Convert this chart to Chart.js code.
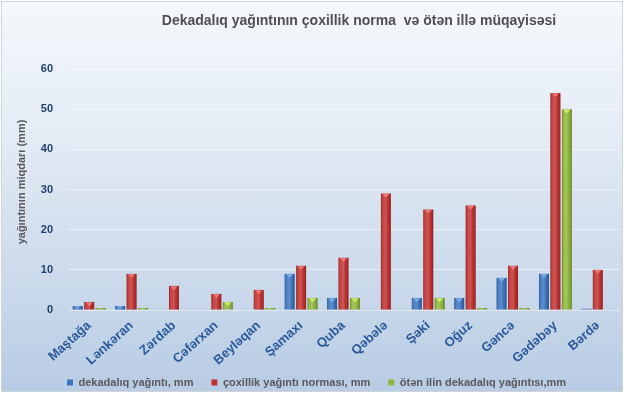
<!DOCTYPE html>
<html><head><meta charset="utf-8">
<script src="https://cdn.jsdelivr.net/npm/chart.js@4/dist/chart.umd.min.js"></script>
<style>
html,body{margin:0;padding:0;background:#fff;}
#wrap{position:absolute;left:1px;top:1px;width:620px;height:389px;overflow:hidden;border:1px solid #cfd4da;background:linear-gradient(#f5f8fc 0%,#e3ebf5 35%,#c9d8ea 75%,#b8cce4 100%);}
canvas{display:block;}
</style></head><body>
<div id="wrap"><canvas id="c" width="620" height="389"></canvas></div>
<script>
const categories = ["Maştağa","Lənkəran","Zərdab","Cəfərxan","Beyləqan","Şamaxı","Quba","Qəbələ","Şəki","Oğuz","Gəncə","Gədəbəy","Bərdə"];
const dekadaliq = [1,1,0,0,0,9,3,0,3,3,8,9,0.3];
const norma = [2,9,6,4,5,11,13,29,25,26,11,54,10];
const otenIl = [0.5,0.5,0,2,0.5,3,3,0,3,0.5,0.5,50,0];
const yTicks = [0,10,20,30,40,50,60];
const seriesNames = ["dekadalıq yağıntı, mm","çoxillik yağıntı norması, mm","ötən ilin dekadalıq yağıntısı,mm"];
const titleText = "Dekadalıq yağıntının çoxillik norma  və ötən illə müqayisəsi";
const yTitle = "yağıntının miqdarı (mm)";

const colors = ["#3b76c2","#c3312f","#8fb83a"];
const lights = ["#7fb0ea","#f07a78","#d3ee6e"];
const FONT = '"Liberation Sans", Arial, sans-serif';

const barStyle = {
  id:'barStyle',
  afterDatasetsDraw(chart){
    const ctx = chart.ctx;
    chart.data.datasets.forEach((ds,di)=>{
      const meta = chart.getDatasetMeta(di);
      meta.data.forEach(bar=>{
        const {x,y,base,width} = bar.getProps(['x','y','base','width'],true);
        const h = base - y;
        if (h <= 0.1) return;
        const l = x - width/2;
        ctx.save();
        const g = ctx.createLinearGradient(l,0,l+width,0);
        g.addColorStop(0,'rgba(0,0,0,0.28)');
        g.addColorStop(0.25,'rgba(255,255,255,0.10)');
        g.addColorStop(0.5,'rgba(255,255,255,0.18)');
        g.addColorStop(0.8,'rgba(0,0,0,0.05)');
        g.addColorStop(1,'rgba(0,0,0,0.32)');
        ctx.fillStyle = g;
        ctx.fillRect(l,y,width,h);
        if (h >= 3) {
          const th = Math.min(4, h-1);
          ctx.fillStyle = lights[di];
          ctx.beginPath();
          ctx.moveTo(l+1.5,y+0.5);
          ctx.lineTo(l+width-1.5,y+0.5);
          ctx.lineTo(x,y+th);
          ctx.closePath();
          ctx.fill();
        }
        ctx.restore();
      });
    });
  }
};

// keep legend compact vertically while using wide horizontal spacing
const legendTweak = {
  id:'legendTweak',
  afterInit(chart){
    const lg = chart.legend;
    if (!lg || lg._tweaked) return;
    lg._tweaked = true;
    const origFit = lg.fit.bind(lg);
    lg.fit = function(){ origFit(); this.height = 23; };
    const origDraw = lg.draw.bind(lg);
    lg.draw = function(){
      const t = this.top;
      this.top = t - 9;
      origDraw();
      this.top = t;
    };
  }
};

const textPlugin = {
  id:'customText',
  afterDraw(chart){
    const ctx = chart.ctx;
    ctx.save();
    ctx.font = 'bold 14px ' + FONT;
    ctx.fillStyle = '#4f4f4f';
    ctx.textAlign = 'center';
    ctx.textBaseline = 'middle';
    ctx.fillText(titleText, 357, 19);
    ctx.translate(20, 180);
    ctx.rotate(-Math.PI/2);
    ctx.font = 'bold 11px ' + FONT;
    ctx.fillStyle = '#595959';
    ctx.fillText(yTitle, 0, 0);
    ctx.restore();
  }
};

new Chart(document.getElementById('c'), {
  type:'bar',
  data:{
    labels: categories,
    datasets:[
      {label:seriesNames[0], data:dekadaliq, backgroundColor:colors[0]},
      {label:seriesNames[1], data:norma, backgroundColor:colors[1]},
      {label:seriesNames[2], data:otenIl, backgroundColor:colors[2]}
    ]
  },
  options:{
    responsive:false,
    animation:false,
    devicePixelRatio:1,
    categoryPercentage:0.81,
    barPercentage:0.87,
    layout:{padding:{top:67,right:3,left:12,bottom:0}},
    plugins:{
      legend:{
        position:'bottom',
        labels:{
          boxWidth:6, boxHeight:6, padding:18,
          color:'#595959',
          font:{family:FONT, size:11, weight:'bold'}
        }
      },
      tooltip:{enabled:false},
      title:{display:false}
    },
    scales:{
      x:{
        grid:{display:false},
        border:{display:true,color:'#e4e8ee'},
        ticks:{
          maxRotation:42, minRotation:42, padding:0,
          color:'#2a5a9c',
          font:{family:FONT, size:13, weight:'bold'}
        },
        afterFit(s){ s.height = 58; }
      },
      y:{
        min:0, max:60,
        afterBuildTicks(s){ s.ticks = yTicks.map(v=>({value:v})); },
        grid:{color:'rgba(255,255,255,0.55)', drawTicks:false},
        border:{display:false},
        ticks:{
          padding:15,
          color:'#1f3f6e',
          font:{family:FONT, size:11, weight:'bold'}
        },
        afterFit(s){ s.width = 54; }
      }
    }
  },
  plugins:[barStyle,legendTweak,textPlugin]
});
</script>
</body></html>
